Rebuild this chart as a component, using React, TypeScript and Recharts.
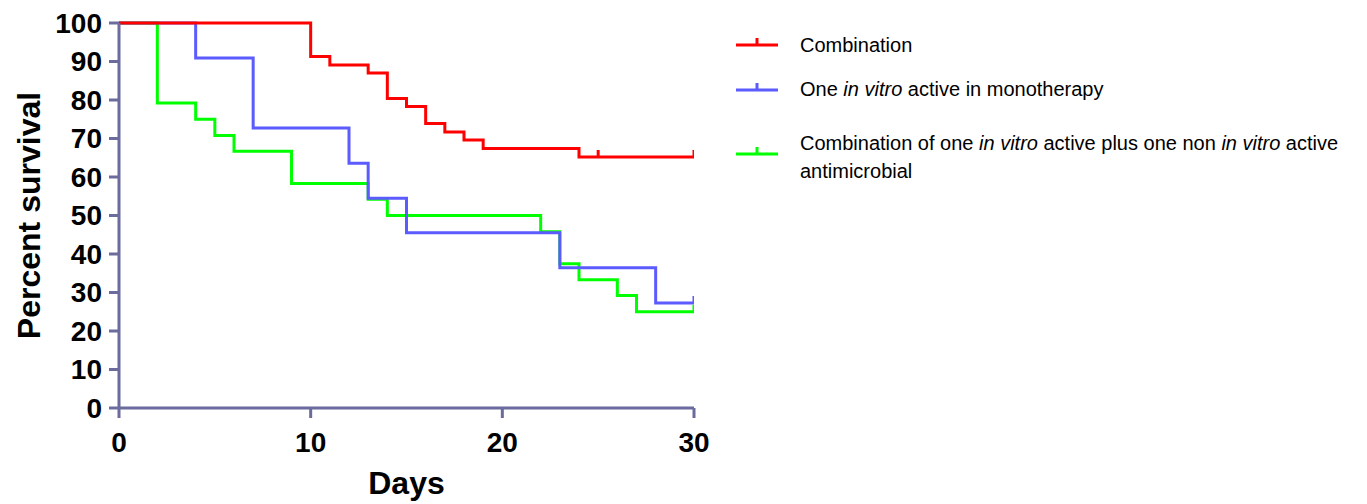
import React from "react";
import { ComposedChart, Line, XAxis, YAxis, Legend } from "recharts";

// ---- data ----
const comboDays = [0, 10, 11, 13, 14, 15, 16, 17, 18, 19, 24, 25, 30];
const comboSurvival = [100, 91.3, 89.1, 87.0, 80.4, 78.3, 73.9, 71.7, 69.6, 67.4, 65.2, 65.2, 65.2];
const comboCensored = [25, 30];

const monoDays = [0, 4, 7, 12, 13, 15, 23, 28, 30];
const monoSurvival = [100, 90.9, 72.7, 63.6, 54.5, 45.5, 36.4, 27.3, 27.3];
const monoCensored = [30];

const mixDays = [0, 2, 4, 5, 6, 9, 13, 14, 22, 23, 24, 26, 27, 30];
const mixSurvival = [100, 79.2, 75.0, 70.8, 66.7, 58.3, 54.2, 50.0, 45.8, 37.5, 33.3, 29.2, 25.0, 25.0];
const mixCensored = [30];

const xTicks = [0, 10, 20, 30];
const yTicks = [0, 10, 20, 30, 40, 50, 60, 70, 80, 90, 100];

const seriesNames = [
  "Combination",
  "One in vitro active in monotherapy",
  "Combination of one in vitro active plus one non in vitro active antimicrobial",
];

const RED = "#ff0000";
const BLUE = "#5b5bff";
const GREEN = "#00ff00";
const AXIS = "#6b6b9d";
const FONT = "'Liberation Sans', Arial, Helvetica, sans-serif";

const build = (days: number[], surv: number[], cens: number[]) =>
  days.map((d, i) => ({ day: d, value: surv[i], censored: cens.includes(d) }));

const comboData = build(comboDays, comboSurvival, comboCensored);
const monoData = build(monoDays, monoSurvival, monoCensored);
const mixData = build(mixDays, mixSurvival, mixCensored);

const censorDot = (color: string) => (props: any) => {
  const { cx, cy, payload, index } = props;
  if (!payload || !payload.censored || cx == null || cy == null) {
    return <g key={`d-${index}`} />;
  }
  return (
    <line
      key={`d-${index}`}
      x1={cx}
      x2={cx}
      y1={cy}
      y2={cy - 7}
      stroke={color}
      strokeWidth={3}
    />
  );
};

const LegendSymbol = ({ color }: { color: string }) => (
  <svg width={42} height={12} style={{ display: "block" }}>
    <line x1={0} x2={42} y1={9} y2={9} stroke={color} strokeWidth={3} />
    <line x1={21} x2={21} y1={9} y2={2} stroke={color} strokeWidth={3} />
  </svg>
);

const renderLegend = () => {
  const textStyle: React.CSSProperties = {
    position: "absolute",
    left: 800,
    fontFamily: FONT,
    fontSize: 20,
    color: "#000",
    whiteSpace: "nowrap",
    lineHeight: "28px",
  };
  return (
    <div style={{ position: "relative", width: 1367, height: 200 }}>
      <div style={{ position: "absolute", left: 736, top: 36 }}>
        <LegendSymbol color={RED} />
      </div>
      <div style={{ ...textStyle, top: 31 }}>{seriesNames[0]}</div>

      <div style={{ position: "absolute", left: 736, top: 81 }}>
        <LegendSymbol color={BLUE} />
      </div>
      <div style={{ ...textStyle, top: 75 }}>
        One <i>in vitro</i> active in monotherapy
      </div>

      <div style={{ position: "absolute", left: 736, top: 145 }}>
        <LegendSymbol color={GREEN} />
      </div>
      <div style={{ ...textStyle, top: 129 }}>
        Combination of one <i>in vitro</i> active plus one non <i>in vitro</i> active
        <br />
        antimicrobial
      </div>
    </div>
  );
};

export default function App() {
  return (
    <div style={{ position: "absolute", left: 0, top: 0, width: 1367, height: 504, background: "#fff" }}>
      <ComposedChart
        width={1367}
        height={504}
        margin={{ top: 23, right: 673, left: 0, bottom: 0 }}
      >
        <XAxis
          type="number"
          dataKey="day"
          domain={[0, 30]}
          ticks={xTicks}
          allowDataOverflow
          height={96}
          stroke={AXIS}
          strokeWidth={3}
          tickSize={10}
          tickMargin={14}
          tick={{ fill: "#000", fontFamily: FONT, fontSize: 28, fontWeight: "bold" }}
          tickLine={{ stroke: AXIS, strokeWidth: 3 }}
          label={{
            content: (p: any) => {
              const vb = p.viewBox || {};
              return (
                <text
                  x={(vb.x ?? 119) + (vb.width ?? 575) / 2}
                  y={494}
                  textAnchor="middle"
                  fontFamily={FONT}
                  fontSize={32}
                  fontWeight="bold"
                  fill="#000"
                >
                  Days
                </text>
              );
            },
          }}
        />
        <YAxis
          type="number"
          domain={[0, 100]}
          ticks={yTicks}
          interval={0}
          width={119}
          stroke={AXIS}
          strokeWidth={3}
          tickSize={10}
          tickMargin={7}
          tick={{ fill: "#000", fontFamily: FONT, fontSize: 28, fontWeight: "bold" }}
          tickLine={{ stroke: AXIS, strokeWidth: 3 }}
          label={{
            content: (p: any) => {
              const vb = p.viewBox || {};
              const cy = (vb.y ?? 23) + (vb.height ?? 385) / 2;
              return (
                <text
                  x={40}
                  y={cy}
                  transform={`rotate(-90, 40, ${cy})`}
                  textAnchor="middle"
                  fontFamily={FONT}
                  fontSize={32}
                  fontWeight="bold"
                  fill="#000"
                >
                  Percent survival
                </text>
              );
            },
          }}
        />
        <Legend
          layout="vertical"
          align="center"
          verticalAlign="middle"
          content={renderLegend}
          wrapperStyle={{ left: 0, top: 0, width: 1367, height: 200 }}
        />
        <Line
          data={mixData}
          dataKey="value"
          name={seriesNames[2]}
          type="stepAfter"
          stroke={GREEN}
          strokeWidth={3}
          dot={censorDot(GREEN)}
          activeDot={false}
          isAnimationActive={false}
        />
        <Line
          data={monoData}
          dataKey="value"
          name={seriesNames[1]}
          type="stepAfter"
          stroke={BLUE}
          strokeWidth={3}
          dot={censorDot(BLUE)}
          activeDot={false}
          isAnimationActive={false}
        />
        <Line
          data={comboData}
          dataKey="value"
          name={seriesNames[0]}
          type="stepAfter"
          stroke={RED}
          strokeWidth={3}
          dot={censorDot(RED)}
          activeDot={false}
          isAnimationActive={false}
        />
      </ComposedChart>
    </div>
  );
}
